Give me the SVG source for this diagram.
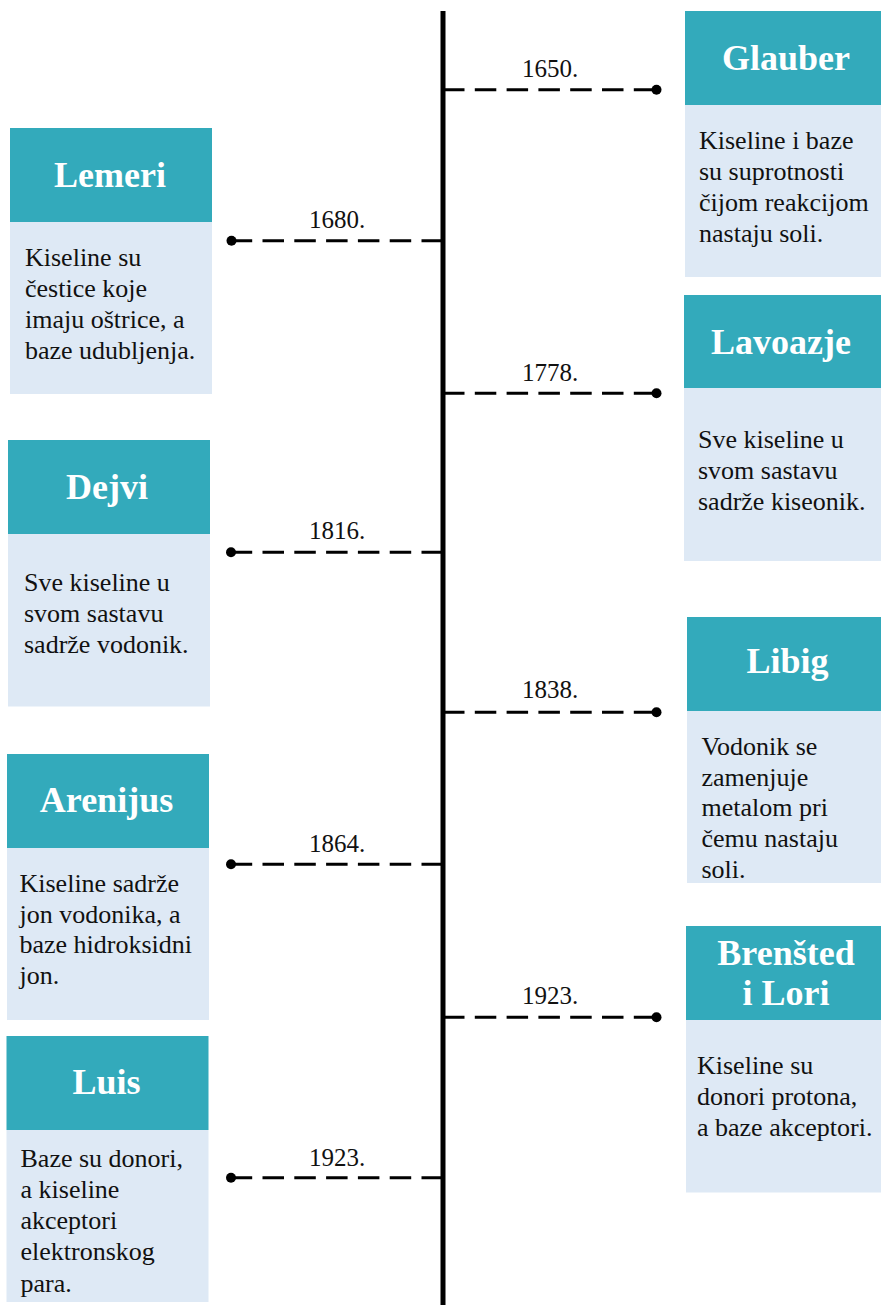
<svg xmlns="http://www.w3.org/2000/svg" width="881" height="1305" viewBox="0 0 881 1305">
  <style>
    .head { fill: #33aabb; }
    .body { fill: #dee9f5; }
    .title { font-family: "Liberation Serif", "DejaVu Serif", serif; font-weight: bold; font-size: 36px; fill: #ffffff; text-anchor: middle; }
    .txt { font-family: "Liberation Serif", "DejaVu Serif", serif; font-size: 26px; fill: #111111; }
    .year { font-family: "Liberation Serif", "DejaVu Serif", serif; font-size: 25px; fill: #111111; text-anchor: middle; }
    .dash { stroke: #000000; stroke-width: 3; stroke-dasharray: 21.5 10.3; fill: none; }
    .dot { fill: #000000; }
    .axis { stroke: #000000; stroke-width: 5; }
  </style>

  <!-- timeline axis and year connectors -->
  <g id="connectors">
    <line class="axis" x1="443" y1="11" x2="443" y2="1305"/>

    <path class="dash" d="M443,89.7 H656.5"/>
    <circle class="dot" cx="656.5" cy="89.7" r="5"/>
    <text class="year" x="550" y="76.5">1650.</text>

    <path class="dash" d="M443,240.7 H231.5"/>
    <circle class="dot" cx="231.5" cy="240.7" r="5"/>
    <text class="year" x="337" y="228">1680.</text>

    <path class="dash" d="M443,393.3 H656.5"/>
    <circle class="dot" cx="656.5" cy="393.3" r="5"/>
    <text class="year" x="550" y="380.5">1778.</text>

    <path class="dash" d="M443,552.3 H231"/>
    <circle class="dot" cx="231" cy="552.3" r="5"/>
    <text class="year" x="337" y="538.5">1816.</text>

    <path class="dash" d="M443,712.3 H656.5"/>
    <circle class="dot" cx="656.5" cy="712.3" r="5"/>
    <text class="year" x="550" y="698">1838.</text>

    <path class="dash" d="M443,864.3 H231"/>
    <circle class="dot" cx="231" cy="864.3" r="5"/>
    <text class="year" x="337" y="851.5">1864.</text>

    <path class="dash" d="M443,1017.3 H656.5"/>
    <circle class="dot" cx="656.5" cy="1017.3" r="5"/>
    <text class="year" x="550" y="1004">1923.</text>

    <path class="dash" d="M443,1177.7 H231"/>
    <circle class="dot" cx="231" cy="1177.7" r="5"/>
    <text class="year" x="337" y="1165.5">1923.</text>
  </g>

  <g id="glauber">
    <rect class="head" x="685" y="11" width="202" height="94"/>
    <rect class="body" x="685" y="105" width="202" height="172"/>
    <text class="title" x="786" y="70">Glauber</text>
    <text class="txt" x="699" y="149">Kiseline i baze</text>
    <text class="txt" x="699" y="180">su suprotnosti</text>
    <text class="txt" x="699" y="211">čijom reakcijom</text>
    <text class="txt" x="699" y="242">nastaju soli.</text>
  </g>

  <g id="lemeri">
    <rect class="head" x="10" y="128" width="202" height="94"/>
    <rect class="body" x="10" y="222" width="202" height="172"/>
    <text class="title" x="110" y="187">Lemeri</text>
    <text class="txt" x="25" y="266">Kiseline su</text>
    <text class="txt" x="25" y="297">čestice koje</text>
    <text class="txt" x="25" y="328">imaju oštrice, a</text>
    <text class="txt" x="25" y="359">baze udubljenja.</text>
  </g>

  <g id="lavoazje">
    <rect class="head" x="684" y="295" width="202" height="93"/>
    <rect class="body" x="684" y="388" width="202" height="173"/>
    <text class="title" x="781" y="353.5">Lavoazje</text>
    <text class="txt" x="698" y="448">Sve kiseline u</text>
    <text class="txt" x="698" y="479">svom sastavu</text>
    <text class="txt" x="698" y="510">sadrže kiseonik.</text>
  </g>

  <g id="dejvi">
    <rect class="head" x="8" y="440" width="202" height="94"/>
    <rect class="body" x="8" y="534" width="202" height="172.5"/>
    <text class="title" x="107" y="499">Dejvi</text>
    <text class="txt" x="24" y="591">Sve kiseline u</text>
    <text class="txt" x="24" y="622">svom sastavu</text>
    <text class="txt" x="24" y="653">sadrže vodonik.</text>
  </g>

  <g id="libig">
    <rect class="head" x="687" y="617" width="202" height="94"/>
    <rect class="body" x="687" y="711" width="202" height="172"/>
    <text class="title" x="787.5" y="673">Libig</text>
    <text class="txt" x="701.5" y="754.5">Vodonik se</text>
    <text class="txt" x="701.5" y="785.5">zamenjuje</text>
    <text class="txt" x="701.5" y="816">metalom pri</text>
    <text class="txt" x="701.5" y="847">čemu nastaju</text>
    <text class="txt" x="701.5" y="877.5">soli.</text>
  </g>

  <g id="arenijus">
    <rect class="head" x="7" y="754" width="202" height="94"/>
    <rect class="body" x="7" y="848" width="202" height="172"/>
    <text class="title" x="106.5" y="812">Arenijus</text>
    <text class="txt" x="19.5" y="892">Kiseline sadrže</text>
    <text class="txt" x="19.5" y="922.5">jon vodonika, a</text>
    <text class="txt" x="19.5" y="953">baze hidroksidni</text>
    <text class="txt" x="19.5" y="983.5">jon.</text>
  </g>

  <g id="brensted-lori">
    <rect class="head" x="686" y="926" width="202" height="94"/>
    <rect class="body" x="686" y="1020" width="202" height="172.5"/>
    <text class="title" x="786" y="965">Brenšted</text>
    <text class="title" x="786" y="1005">i Lori</text>
    <text class="txt" x="697" y="1073.5">Kiseline su</text>
    <text class="txt" x="697" y="1104.5">donori protona,</text>
    <text class="txt" x="697" y="1135.5">a baze akceptori.</text>
  </g>

  <g id="luis">
    <rect class="head" x="6.5" y="1036" width="202" height="94"/>
    <rect class="body" x="6.5" y="1130" width="202" height="172"/>
    <text class="title" x="106.5" y="1094">Luis</text>
    <text class="txt" x="20.5" y="1167">Baze su donori,</text>
    <text class="txt" x="20.5" y="1198">a kiseline</text>
    <text class="txt" x="20.5" y="1229">akceptori</text>
    <text class="txt" x="20.5" y="1260">elektronskog</text>
    <text class="txt" x="20.5" y="1291.5">para.</text>
  </g>
</svg>
